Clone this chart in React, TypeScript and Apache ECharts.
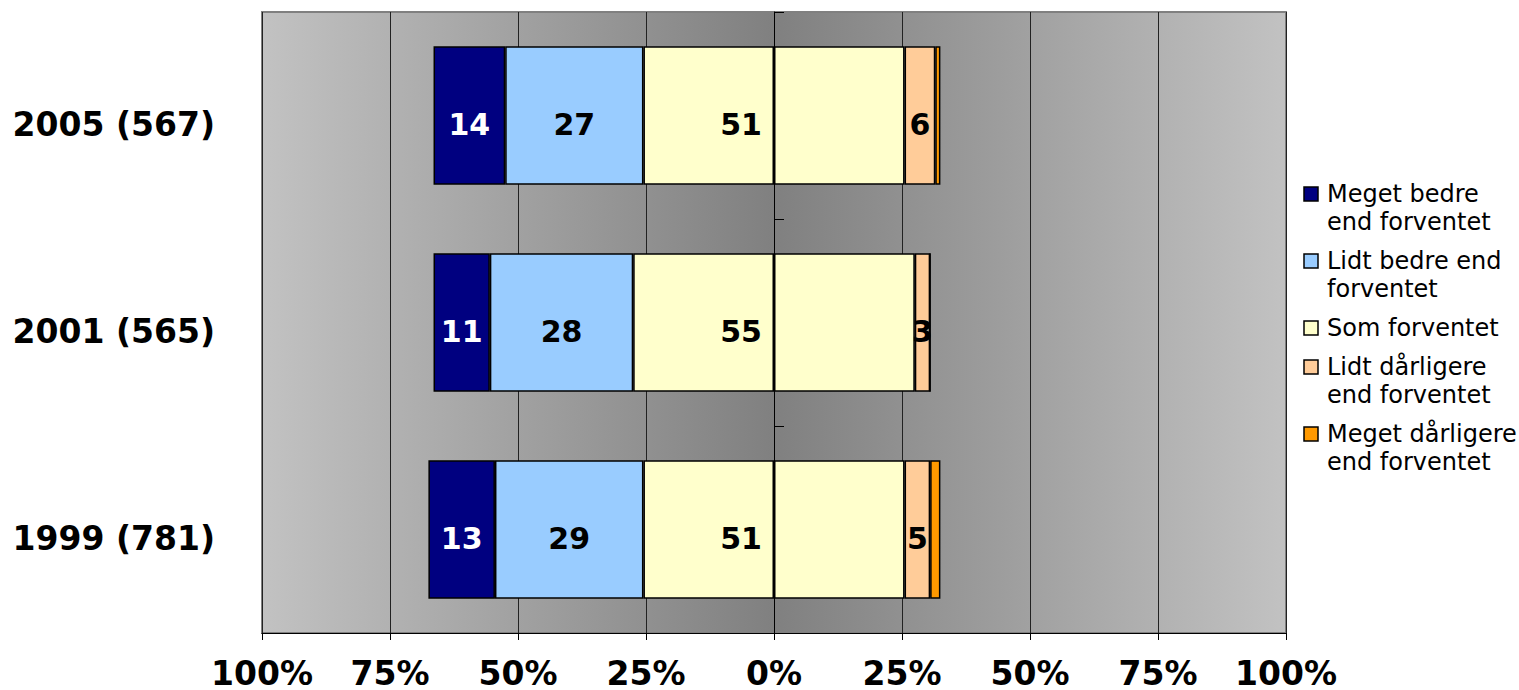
import React, { useEffect, useRef } from "react";
import * as echarts from "echarts";

const categories = ["1999 (781)", "2001 (565)", "2005 (567)"];
const megetBedre = [13, 11, 14];
const lidtBedre = [29, 28, 27];
const somForventet = [51, 55, 51];
const lidtDarligere = [5, 3, 6];
const megetDarligere = [2, 0, 1];

const seriesNames = [
  "Meget bedre end forventet",
  "Lidt bedre end forventet",
  "Som forventet",
  "Lidt dårligere end forventet",
  "Meget dårligere end forventet",
];
const legendLines = [
  ["Meget bedre", "end forventet"],
  ["Lidt bedre end", "forventet"],
  ["Som forventet"],
  ["Lidt dårligere", "end forventet"],
  ["Meget dårligere", "end forventet"],
];
const colors = ["#000080", "#99CCFF", "#FFFFCC", "#FFCC99", "#FF9900"];

const FONT = "DejaVu Sans";

export default function App() {
  const ref = useRef<HTMLDivElement>(null);
  useEffect(() => {
    if (!ref.current) return;
    const chart = echarts.init(ref.current, undefined, { renderer: "svg" });

    const barLabel = (arr: number[], color: string, position: string = "inside", distance = 5) => ({
      show: true,
      position,
      distance,
      offset: [0, 9],
      color,
      fontFamily: FONT,
      fontWeight: "bold",
      fontSize: 30,
      formatter: (p: any) => String(arr[p.dataIndex]),
    });

    const base = (name: string, color: string) => ({
      type: "bar",
      name,
      stack: "total",
      barCategoryGap: "33%",
      itemStyle: { color, borderColor: "#000", borderWidth: 1.5 },
      emphasis: { disabled: true },
    });

    const series: any[] = [
      {
        ...base(seriesNames[2], colors[2]),
        data: somForventet.map((v) => -v / 2),
        label: barLabel(somForventet, "#000", "insideRight", 12),
      },
      {
        ...base(seriesNames[1], colors[1]),
        data: lidtBedre.map((v) => -v),
        label: barLabel(lidtBedre, "#000"),
      },
      {
        ...base(seriesNames[0], colors[0]),
        data: megetBedre.map((v) => -v),
        label: barLabel(megetBedre, "#fff"),
      },
      {
        ...base(seriesNames[2] + " ", colors[2]),
        data: somForventet.map((v) => v / 2),
      },
      {
        ...base(seriesNames[3], colors[3]),
        data: lidtDarligere,
        label: barLabel(lidtDarligere, "#000"),
      },
      {
        ...base(seriesNames[4], colors[4]),
        data: megetDarligere,
      },
    ];

    const legendChildren: any[] = [];
    let cy = 194;
    legendLines.forEach((lines, i) => {
      legendChildren.push({
        type: "rect",
        shape: { x: 1304, y: cy - 7, width: 14, height: 14 },
        style: { fill: colors[i], stroke: "#000", lineWidth: 1.5 },
      });
      legendChildren.push({
        type: "text",
        x: 1327,
        y: cy - 14,
        style: {
          text: lines.join("\n"),
          fontFamily: FONT,
          fontSize: 24,
          lineHeight: 28,
          fill: "#000",
          verticalAlign: "top",
          align: "left",
        },
      });
      cy += 28 * (lines.length - 1) + 39;
    });

    chart.setOption({
      animation: false,
      textStyle: { fontFamily: FONT },
      grid: {
        left: 262,
        right: 233,
        top: 12,
        bottom: 57,
        show: true,
        borderColor: "#808080",
        borderWidth: 2,
        backgroundColor: {
          type: "linear",
          x: 0,
          y: 0,
          x2: 1,
          y2: 0,
          colorStops: [
            { offset: 0, color: "#c2c2c2" },
            { offset: 0.5, color: "#808080" },
            { offset: 1, color: "#c2c2c2" },
          ],
        },
      },
      xAxis: {
        type: "value",
        min: -100,
        max: 100,
        interval: 25,
        axisLine: { show: true, onZero: false, lineStyle: { color: "#000", width: 1 } },
        axisTick: { show: true, length: 7, lineStyle: { color: "#000" } },
        splitLine: { show: true, lineStyle: { color: "#222", width: 1 } },
        axisLabel: {
          formatter: (v: number) => Math.abs(v) + "%",
          fontFamily: FONT,
          fontWeight: "bold",
          fontSize: 33,
          color: "#000",
          margin: 24,
        },
      },
      yAxis: [
        {
          type: "category",
          data: categories,
          position: "left",
          axisLine: { show: false },
          axisTick: { show: false },
          splitLine: { show: false },
          axisLabel: {
            margin: 47,
            formatter: (v: string) => "{a|" + v + "}",
            rich: {
              a: {
                fontFamily: FONT,
                fontWeight: "bold",
                fontSize: 33,
                color: "#000",
                padding: [18, 0, 0, 0],
              },
            },
          },
        },
        {
          type: "category",
          data: categories,
          position: "left",
          offset: -512,
          axisLine: { show: true, lineStyle: { color: "#000", width: 1 } },
          axisTick: { show: true, inside: true, length: 10, lineStyle: { color: "#000" } },
          axisLabel: { show: false },
          splitLine: { show: false },
        },
      ],
      series,
      graphic: [{ type: "group", x: 0, y: 0, children: legendChildren }],
    });

    return () => chart.dispose();
  }, []);

  return (
    <div
      ref={ref}
      style={{ position: "fixed", left: 0, top: 0, width: 1519, height: 690, background: "#fff" }}
    />
  );
}
